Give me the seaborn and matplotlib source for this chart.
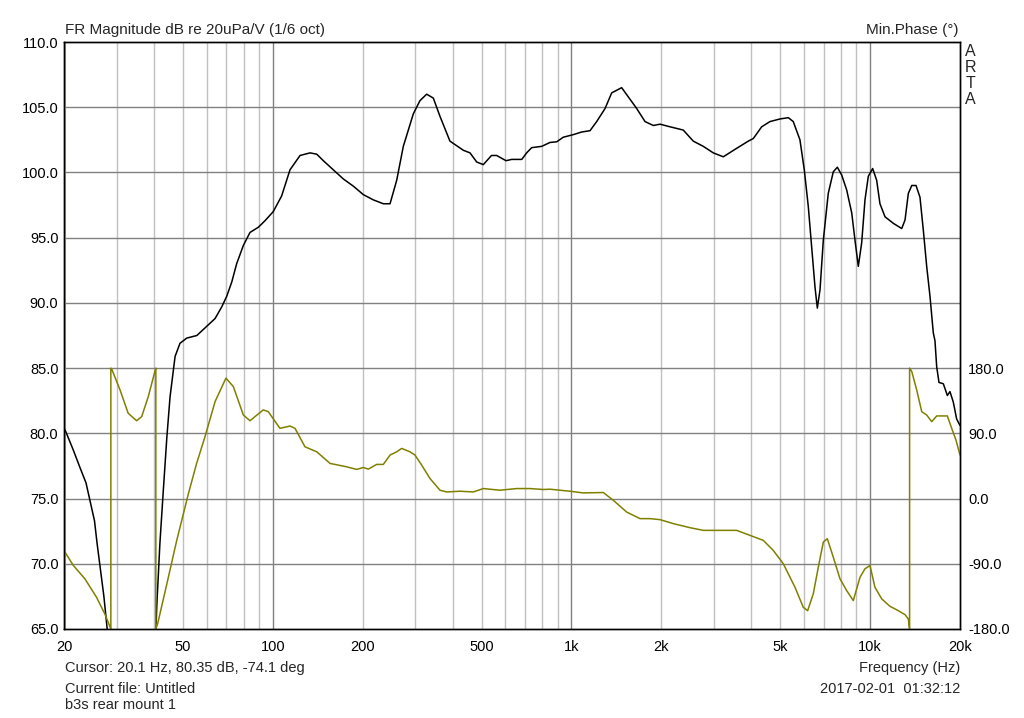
import numpy as np
import pandas as pd
import matplotlib
matplotlib.use("Agg")
import matplotlib.pyplot as plt
import seaborn as sns

# magnitude response (Hz, dB)
mag_freq = [20.0, 20.3, 21.5, 22.6, 23.7, 24.4, 25.3, 25.8, 26.5, 27.2, 27.9, 29.5, 33, 37, 40, 40.5,
            40.9, 41.9, 43.0, 44.2, 45.3, 47.1, 48.9, 51.5, 55.7, 60.1, 64.1, 67.5, 70.1, 72.9, 75.7,
            79.7, 83.9, 89.5, 94.2, 100.4, 107.1, 114.2, 123.4, 133.3, 140.4, 147.7, 159.5, 172.3,
            186.1, 201, 217, 234.6, 247, 260, 273.6, 295.6, 311, 327.6, 344.8, 363, 392, 434.6, 457.6,
            481.8, 507, 540, 562, 604, 631, 682, 708, 736, 795, 848, 893, 939, 1015, 1082, 1154, 1215,
            1296, 1364, 1473, 1550, 1654, 1764, 1880, 1980, 2138, 2368, 2559, 2764, 2985, 3225, 3575,
            3910, 4064, 4335, 4622, 4993, 5323, 5530, 5823, 6021, 6209, 6375, 6540, 6658, 6797, 6972,
            7244, 7530, 7768, 8035, 8350, 8679, 8901, 9131, 9372, 9614, 9863, 10200, 10520, 10790,
            11220, 11960, 12760, 13090, 13430, 13790, 14250, 14690, 15070, 15470, 15870, 16280, 16490,
            16710, 17010, 17590, 18140, 18510, 18990, 19490, 20000]
mag_db = [80.4, 80.1, 78.7, 77.4, 76.2, 74.9, 73.3, 71.6, 69.5, 67.5, 65.0, 62.0, 59.0, 59.0, 61.0, 64.0,
          66.8, 71.6, 75.6, 79.7, 82.8, 85.9, 86.9, 87.3, 87.5, 88.2, 88.8, 89.7, 90.5, 91.6, 93.0,
          94.4, 95.4, 95.8, 96.3, 97.0, 98.2, 100.2, 101.3, 101.5, 101.4, 100.9, 100.2, 99.5,
          98.95, 98.3, 97.9, 97.6, 97.6, 99.4, 102.0, 104.5, 105.5, 106.0, 105.7, 104.3, 102.4, 101.7, 101.5,
          100.8, 100.6, 101.3, 101.3, 100.9, 101.0, 101.0, 101.5, 101.9, 102.0, 102.3, 102.35, 102.7, 102.9, 103.1, 103.2, 103.9,
          104.9, 106.1, 106.5, 105.8, 104.9, 103.9, 103.6, 103.7, 103.5, 103.25, 102.4, 102.0, 101.5, 101.2, 101.85,
          102.4, 102.6, 103.5, 103.9, 104.1, 104.2, 103.9, 102.5, 100.2, 97.4, 94.3, 91.2, 89.6, 91.0, 94.8,
          98.4, 100.05, 100.4, 99.8, 98.65, 96.9, 94.8, 92.8, 94.6, 97.9, 99.7, 100.3, 99.4, 97.6,
          96.6, 96.1, 95.7, 96.35, 98.4, 99.0, 99.0, 98.1, 95.6, 92.8, 90.5, 87.7, 87.1,
          85.1, 83.9, 83.8, 82.9, 83.2, 82.4, 81.1, 80.6]

# minimum phase (Hz, degrees), wrapped at +/-180
ph_freq = [20.0, 20.15, 21.5, 23.5, 25.7, 27.4, 28.5, 28.7, 28.7, 28.9, 30.8, 32.8, 35.0, 36.4, 38.3,
           40.3, 40.6, 40.6, 41.2, 44.2, 47.7, 52.2, 55.6, 59.3, 64.1, 69.7, 73.8, 79.7, 83.9, 92.9,
           96.6, 105.7, 114.2, 118.7, 128.2, 140.4, 155.5, 176.8, 191, 201, 208.9, 222.8, 234.5, 247,
           260, 270.2, 288, 299.4, 315.3, 336, 363, 382.2, 423.6, 469.3, 507, 576.6, 655.8, 726.6,
           805, 847.9, 989, 1095, 1279, 1381, 1531, 1697, 1833, 1980, 2193, 2495, 2764, 3575, 3962,
           4389, 4742, 5122, 5605, 5975, 6180, 6452, 6709, 6972, 7190, 7530, 7930, 8350, 8785, 9252,
           9614, 9993, 10380, 10940, 11660, 12430, 13090, 13430, 13530, 13560, 13560, 13790, 14320,
           14890, 15470, 16080, 16710, 18140, 18760, 19390, 20000]
ph_deg = [-72, -73.9, -92.4, -110.8, -136.2, -159.2, -176.8, -180, 180, 178.6, 150, 117.7, 107.4, 113, 140.7,
          175.3, 180, -180, -172.2, -117.7, -57.7, 6.9, 48.5, 85.3, 133.8, 166.2, 154.5, 115.3, 107.4, 122.3,
          119.9, 96.9, 100.1, 96.9, 71.4, 64.5, 48.5, 43.8, 40.2, 42.9, 40.6, 47.1, 47.1, 60,
          64.5, 69.2, 64.5, 60, 46.1, 27.7, 11.5, 9.1, 10.1, 9.1, 13.8, 11.5, 13.8, 13.8,
          12.5, 12.9, 10.1, 7.8, 8.3, -2.4, -18.6, -27.7, -27.7, -29.1, -34.6, -40.2, -43.9, -43.9, -50.8,
          -57.7, -71.6, -90, -122.4, -150.1, -154.7, -131.5, -94.7, -60.1, -55.4, -80.9, -110.8, -127, -140.8, -108.6,
          -96.9, -92.4, -122.4, -138.5, -148.7, -154.7, -160.2, -166.2, -177.8, -180, 180, 175.3, 150,
          119.9, 115.3, 106.1, 114, 114, 96.9, 80.7, 60]

x_ticks = [20, 50, 100, 200, 500, 1000, 2000, 5000, 10000, 20000]
x_labels = ["20", "50", "100", "200", "500", "1k", "2k", "5k", "10k", "20k"]
db_ticks = [65, 70, 75, 80, 85, 90, 95, 100, 105, 110]
ph_ticks = [-180, -90, 0, 90, 180]

mag = pd.DataFrame({"freq": mag_freq, "db": mag_db})
ph = pd.DataFrame({"freq": ph_freq, "deg": ph_deg})

sns.set_theme(style="white")
plt.rcParams["font.family"] = ["Liberation Sans", "DejaVu Sans"]
plt.rcParams["font.size"] = 10.5

fig = plt.figure(figsize=(10.24, 7.18), dpi=100)
ax = fig.add_axes([64 / 1024, 1 - 629 / 718, 896 / 1024, 587 / 718])
ax.set_xscale("log")
ax.set_xlim(20, 20000)
ax.set_ylim(65, 110)

# grid like ARTA: light minor lines, darker decades and dB lines
for dec in [10, 100, 1000, 10000]:
    for k in range(1, 10):
        f = dec * k
        if 20 < f < 20000:
            c = "#808080" if k == 1 else "#c0c0c0"
            ax.axvline(f, color=c, lw=1, zorder=0)
for d in db_ticks[1:-1]:
    ax.axhline(d, color="#808080", lw=1, zorder=0)

ax.axvline(20.1, color="#c8c800", lw=1.5, zorder=1)

sns.lineplot(data=mag, x="freq", y="db", ax=ax, color="black", lw=1.1,
             sort=False, estimator=None, zorder=3)

# phase scale: 360 deg spans 65..85 dB, so the full 45 dB height is 810 deg
ax2 = ax.twinx()
ax2.set_ylim(-180, 630)
sns.lineplot(data=ph, x="freq", y="deg", ax=ax2, color="#808000", lw=1.1,
             sort=False, estimator=None, zorder=2)
ax2.set_xlim(20, 20000)

ax.set_xticks(x_ticks)
ax.set_xticklabels(x_labels)
ax.xaxis.set_minor_locator(matplotlib.ticker.NullLocator())
ax.set_yticks(db_ticks)
ax.set_yticklabels([f"{d:.1f}" for d in db_ticks])
ax2.set_yticks(ph_ticks)
ax2.set_yticklabels([f"{p:.1f}" for p in ph_ticks])
ax.set_xlabel("")
ax.set_ylabel("")
ax2.set_ylabel("")
ax.tick_params(axis="both", length=0, labelsize=10.5, colors="black")
ax.tick_params(axis="x", pad=8)
ax.tick_params(axis="y", pad=4)
ax2.tick_params(axis="y", length=0, labelsize=10.5, pad=6, colors="black")
for a in (ax, ax2):
    for s in a.spines.values():
        s.set_color("black")
        s.set_linewidth(1)

fig.text(65 / 1024, 1 - 30 / 718, "FR Magnitude dB re 20uPa/V (1/6 oct)", va="center", ha="left", fontsize=11)
fig.text(958 / 1024, 1 - 30 / 718, "Min.Phase (°)", va="center", ha="right", fontsize=11)
for i, ch in enumerate("ARTA"):
    fig.text(970 / 1024, 1 - (52 + 16 * i) / 718, ch, va="center", ha="center", fontsize=11.5)

fig.text(65 / 1024, 1 - 668 / 718, "Cursor: 20.1 Hz, 80.35 dB, -74.1 deg", va="center", ha="left", fontsize=10.5)
fig.text(65 / 1024, 1 - 689 / 718, "Current file: Untitled", va="center", ha="left", fontsize=10.5)
fig.text(65 / 1024, 1 - 705 / 718, "b3s rear mount 1", va="center", ha="left", fontsize=10.5)
fig.text(960 / 1024, 1 - 668 / 718, "Frequency (Hz)", va="center", ha="right", fontsize=10.5)
fig.text(960 / 1024, 1 - 689 / 718, "2017-02-01  01:32:12", va="center", ha="right", fontsize=10.5)

fig.savefig("out.png", dpi=100, facecolor="white")
